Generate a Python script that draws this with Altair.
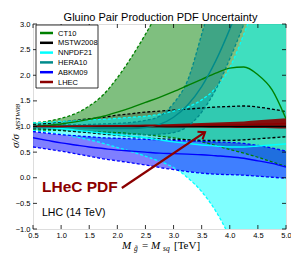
import altair as alt
import pandas as pd

# ---------------- data ----------------
M = [0.5, 0.75, 1.0, 1.25, 1.5, 1.75, 2.0, 2.25, 2.5, 2.75, 3.0, 3.25, 3.5, 3.75, 4.0, 4.25, 4.5, 4.75, 5.0]

sets = ["CT10", "MSTW2008", "NNPDF21", "HERA10", "ABKM09", "LHEC"]
colors = ["#008000", "#000000", "#00ffff", "#008b8b", "#0000ff", "#8b0000"]
fill_opacity = [0.5, 0.22, 0.5, 0.5, 0.5, 0.92]

ct10_lo = [0.93, 0.93, 0.92, 0.91, 0.90, 0.89, 0.88, 0.86, 0.84, 0.81, 0.78, 0.74, 0.70, 0.63, 0.55, 0.48, 0.40, 0.31, 0.22]
ct10_c  = [1.00, 1.02, 1.05, 1.09, 1.14, 1.20, 1.28, 1.37, 1.47, 1.57, 1.68, 1.80, 1.92, 2.04, 2.14, 2.16, 2.01, 1.72, 1.15]
ct10_hi = [1.07, 1.10, 1.16, 1.25, 1.40, 1.62, 1.95, 2.35, 2.80, 3.30, 3.90, 4.50, 5.20, 6.00, 7.00, 8.00, 9.00, 10.0, 11.0]

mstw_lo = [0.96, 0.95, 0.93, 0.90, 0.88, 0.85, 0.83, 0.80, 0.78, 0.76, 0.75, 0.74, 0.73, 0.73, 0.73, 0.74, 0.76, 0.78, 0.80]
mstw_c  = [1.00] * 19
mstw_hi = [1.04, 1.06, 1.09, 1.12, 1.15, 1.18, 1.22, 1.25, 1.28, 1.30, 1.32, 1.34, 1.36, 1.38, 1.39, 1.40, 1.38, 1.34, 1.29]

nnpdf_lo = [0.92, 0.89, 0.85, 0.80, 0.74, 0.67, 0.59, 0.51, 0.42, 0.32, 0.20, 0.00, -0.27, -0.65, -1.15, -1.70, -2.40, -3.20, -4.00]
nnpdf_c  = [1.00, 0.98, 0.96, 0.93, 0.90, 0.87, 0.84, 0.81, 0.78, 0.74, 0.70, 0.67, 0.64, 0.62, 0.60, 0.60, 0.62, 0.64, 0.66]
nnpdf_hi = [1.07, 1.08, 1.10, 1.11, 1.13, 1.14, 1.16, 1.18, 1.20, 1.24, 1.30, 1.38, 1.52, 1.75, 2.15, 2.80, 3.60, 4.50, 5.50]

hera_lo = [0.97, 0.96, 0.94, 0.92, 0.90, 0.88, 0.86, 0.85, 0.84, 0.85, 0.88, 1.00, 1.28, 1.72, 2.32, 3.00, 3.80, 4.60, 5.50]
hera_c  = [1.00, 0.99, 0.99, 0.98, 0.97, 0.96, 0.96, 0.96, 0.98, 1.04, 1.18, 1.42, 1.78, 2.28, 2.90, 3.60, 4.40, 5.20, 6.00]
hera_hi = [1.02, 1.02, 1.03, 1.03, 1.04, 1.05, 1.06, 1.08, 1.12, 1.20, 1.45, 1.90, 2.80, 3.80, 5.00, 6.00, 7.00, 8.00, 9.00]

abkm_lo = [0.60, 0.56, 0.52, 0.47, 0.42, 0.37, 0.33, 0.29, 0.25, 0.20, 0.16, 0.12, 0.09, 0.07, 0.06, 0.05, 0.03, 0.01, -0.01]
abkm_c  = [0.78, 0.73, 0.68, 0.64, 0.60, 0.57, 0.54, 0.52, 0.50, 0.48, 0.47, 0.46, 0.45, 0.43, 0.41, 0.38, 0.33, 0.28, 0.21]
abkm_hi = [0.90, 0.87, 0.84, 0.82, 0.80, 0.78, 0.77, 0.76, 0.75, 0.74, 0.73, 0.72, 0.71, 0.70, 0.69, 0.67, 0.63, 0.58, 0.52]

lhec_lo = [0.99, 0.99, 0.99, 0.99, 0.99, 0.99, 0.99, 0.99, 0.985, 0.985, 0.98, 0.98, 0.98, 0.975, 0.975, 0.97, 0.97, 0.965, 0.96]
lhec_c  = [1.00, 1.00, 1.00, 1.005, 1.005, 1.01, 1.01, 1.01, 1.012, 1.015, 1.015, 1.02, 1.025, 1.03, 1.03, 1.035, 1.045, 1.05, 1.06]
lhec_hi = [1.01, 1.01, 1.015, 1.02, 1.02, 1.025, 1.03, 1.035, 1.04, 1.045, 1.05, 1.06, 1.07, 1.08, 1.09, 1.10, 1.12, 1.14, 1.16]

bands = {
    "CT10": (ct10_lo, ct10_c, ct10_hi),
    "MSTW2008": (mstw_lo, mstw_c, mstw_hi),
    "NNPDF21": (nnpdf_lo, nnpdf_c, nnpdf_hi),
    "HERA10": (hera_lo, hera_c, hera_hi),
    "ABKM09": (abkm_lo, abkm_c, abkm_hi),
    "LHEC": (lhec_lo, lhec_c, lhec_hi),
}
dashed_sets = ["CT10", "MSTW2008", "NNPDF21", "HERA10", "ABKM09"]

x_ticks = [0.5, 1.0, 1.5, 2.0, 2.5, 3.0, 3.5, 4.0, 4.5, 5.0]
y_ticks = [-1.0, -0.5, 0.0, 0.5, 1.0, 1.5, 2.0, 2.5, 3.0]

arrow_M = [2.08, 3.56]
arrow_v = [-0.20, 0.89]

title_text = "Gluino Pair Production PDF Uncertainty"
annot_big = "LHeC PDF"
annot_small = "LHC (14 TeV)"

# ---------------- layout ----------------
W, H = 253, 205
SANS = "Liberation Sans"
SERIF = "Liberation Serif"
DARKRED = "#8b0000"

xs = alt.Scale(domain=[0.5, 5.0], nice=False, zero=False)
ys = alt.Scale(domain=[-1.0, 3.0], nice=False, zero=False)
xaxis = alt.Axis(values=x_ticks, format=".1f", ticks=False, domain=False, grid=False,
                 labelFont=SANS, labelFontSize=7.5, labelPadding=2, title=None,
                 labelFlush=False, labelOverlap=False, labelColor="black")
yaxis = alt.Axis(values=y_ticks, format=".1f", ticks=False, domain=False, grid=False,
                 labelFont=SANS, labelFontSize=7.5, labelPadding=3, title=None,
                 labelFlush=False, labelOverlap=False, labelColor="black")


def X(f):
    return alt.X(f"{f}:Q", scale=xs, axis=xaxis)


def Y(f):
    return alt.Y(f"{f}:Q", scale=ys, axis=yaxis)


layers = []

# filled bands
for s, col, op in zip(sets, colors, fill_opacity):
    lo, c, hi = bands[s]
    df = pd.DataFrame({"M": M, "lo": lo, "c": c, "hi": hi})
    layers.append(
        alt.Chart(df).mark_area(color=col, opacity=op, clip=True, interpolate="monotone")
        .encode(x=X("M"), y=alt.Y("lo:Q", scale=ys, axis=yaxis, stack=None), y2="hi:Q")
    )

# dashed boundaries
for s, col in zip(sets, colors):
    if s not in dashed_sets:
        continue
    lo, c, hi = bands[s]
    df = pd.DataFrame({"M": M, "lo": lo, "hi": hi})
    for f in ["lo", "hi"]:
        layers.append(
            alt.Chart(df).mark_line(color=col, strokeWidth=1.3, strokeDash=[3, 2],
                                    clip=True, interpolate="monotone")
            .encode(x=X("M"), y=Y(f))
        )

# central lines
for s, col in zip(sets, colors):
    lo, c, hi = bands[s]
    df = pd.DataFrame({"M": M, "c": c})
    layers.append(
        alt.Chart(df).mark_line(color=col, strokeWidth=1.4 if s != "MSTW2008" else 1.6,
                                clip=True, interpolate="monotone")
        .encode(x=X("M"), y=Y("c"))
    )

# inward ticks
xt = pd.DataFrame({"t": x_ticks})
yt = pd.DataFrame({"t": y_ticks})
layers.append(alt.Chart(xt).mark_rule(color="black", strokeWidth=0.8)
              .encode(x=X("t"), y=alt.value(H), y2=alt.value(H - 4)))
layers.append(alt.Chart(xt).mark_rule(color="black", strokeWidth=0.8)
              .encode(x=X("t"), y=alt.value(0), y2=alt.value(4)))
layers.append(alt.Chart(yt).mark_rule(color="black", strokeWidth=0.8)
              .encode(y=Y("t"), x=alt.value(0), x2=alt.value(4)))
layers.append(alt.Chart(yt).mark_rule(color="black", strokeWidth=0.8)
              .encode(y=Y("t"), x=alt.value(W), x2=alt.value(W - 4)))

# arrow
arr = pd.DataFrame({"M0": [arrow_M[0]], "v0": [arrow_v[0]], "M1": [arrow_M[1]], "v1": [arrow_v[1]]})
layers.append(alt.Chart(arr).mark_rule(color=DARKRED, strokeWidth=2.3)
              .encode(x=X("M0"), y=Y("v0"), x2="M1:Q", y2="v1:Q"))
layers.append(alt.Chart(arr).mark_point(shape="M-0.6,0.8L0,0L0.6,0.8", filled=False,
                                        color=DARKRED, strokeWidth=2.0, size=230, angle=56,
                                        opacity=1)
              .encode(x=X("M1"), y=Y("v1")))

# legend (manual, matplotlib-style box)
base = alt.Chart(pd.DataFrame({"a": [0]}))
layers.append(base.mark_rect(fill="white", stroke="black", strokeWidth=0.8)
              .encode(x=alt.value(3), x2=alt.value(65), y=alt.value(1), y2=alt.value(64)))
for i, (s, col) in enumerate(zip(sets, colors)):
    ry = 9 + i * 9.8
    layers.append(base.mark_rule(color=col, strokeWidth=2.5)
                  .encode(x=alt.value(7), x2=alt.value(20), y=alt.value(ry)))
    layers.append(base.mark_text(align="left", baseline="middle", font=SANS, fontSize=7.5,
                                 color="black")
                  .encode(x=alt.value(25), y=alt.value(ry + 0.5), text=alt.value(s)))

# texts
layers.append(base.mark_text(align="center", baseline="alphabetic", font=SANS, fontSize=11,
                             color="black")
              .encode(x=alt.value(W / 2 + 1), y=alt.value(-3), text=alt.value(title_text)))
layers.append(base.mark_text(align="left", baseline="alphabetic", font=SANS, fontSize=15.5,
                             fontWeight="bold", color=DARKRED)
              .encode(x=alt.value(9), y=alt.value(168), text=alt.value(annot_big)))
layers.append(base.mark_text(align="left", baseline="alphabetic", font=SANS, fontSize=10.5,
                             color="black")
              .encode(x=alt.value(9), y=alt.value(192), text=alt.value(annot_small)))

# x-axis title: M_g~ = M_sq [TeV]
xt_parts = [
    ("M", 89, 224.5, 11, "italic"),
    ("g\u0303", 101, 227, 7.5, "italic"),
    ("=", 109, 224.5, 11, "normal"),
    ("M", 118, 224.5, 11, "italic"),
    ("sq", 130, 227, 7.5, "italic"),
    ("[TeV]", 141, 224.5, 11, "normal"),
]
for txt, px, py, fs, st in xt_parts:
    layers.append(base.mark_text(align="left", baseline="alphabetic", font=SERIF, fontSize=fs,
                                 fontStyle=st, color="black")
                  .encode(x=alt.value(px), y=alt.value(py), text=alt.value(txt)))

# y-axis title: sigma / sigma_MSTW08
layers.append(base.mark_text(align="left", baseline="alphabetic", font=SERIF, fontSize=11,
                             fontStyle="italic", angle=270, color="black")
              .encode(x=alt.value(-14.5), y=alt.value(124), text=alt.value("\u03c3/\u03c3")))
layers.append(base.mark_text(align="left", baseline="alphabetic", font=SERIF, fontSize=7,
                             fontStyle="italic", angle=270, color="black")
              .encode(x=alt.value(-13), y=alt.value(106), text=alt.value("MSTW08")))

chart = alt.layer(*layers).properties(
    width=W, height=H,
    autosize=alt.AutoSizeParams(type="none"),
    padding={"left": 25, "top": 16, "right": 5, "bottom": 24},
).configure_view(stroke="black", strokeWidth=1).configure(background="white")

chart.save("out.html", embed_options={"renderer": "svg", "actions": False})
